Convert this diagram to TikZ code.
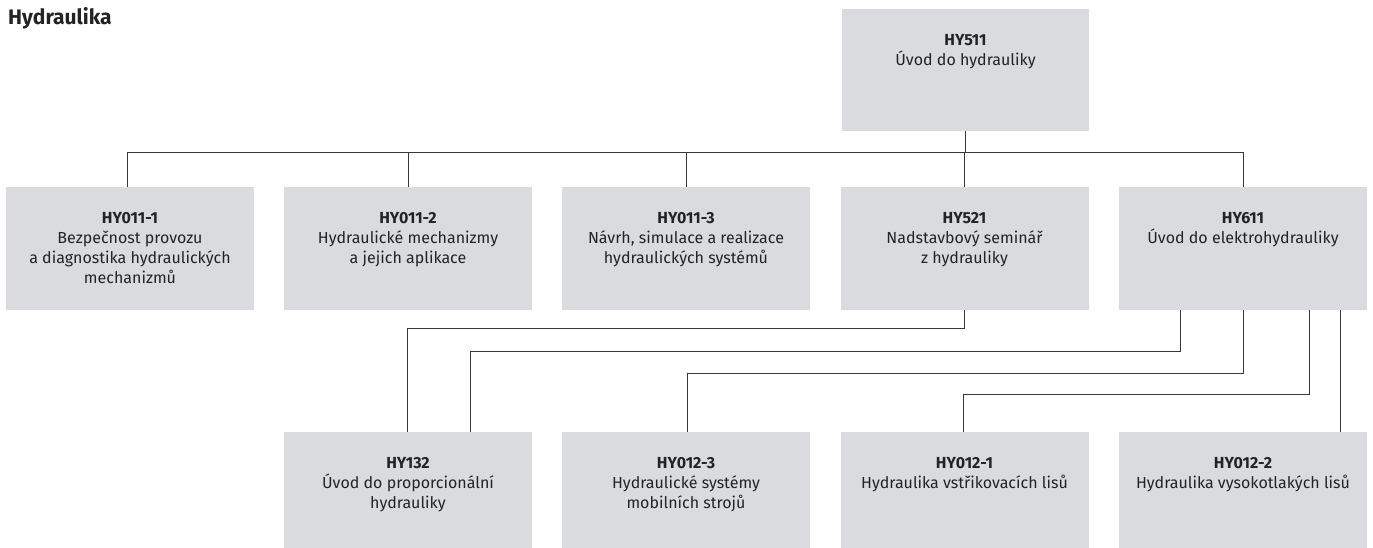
\documentclass[tikz,border=0pt]{standalone}
\usepackage{fontspec}
\setmainfont{Fira Sans}
\usetikzlibrary{positioning,calc}
\definecolor{boxgray}{RGB}{217,219,223}
\definecolor{linegray}{RGB}{55,55,55}
\definecolor{txt}{RGB}{35,35,35}
\tikzset{
  course/.style={draw=none,fill=boxgray,minimum width=#1,inner sep=0pt,outer sep=0pt},
  rowone/.style={course=248pt,minimum height=123pt},
  rowtwo/.style={course=248pt,minimum height=116pt},
  cap/.style={label={[anchor=north,yshift=-25pt,inner sep=0pt,align=center,text=txt,font=\fontsize{16}{20}\selectfont]north:#1}},
  conn/.style={draw=linegray,line width=0.9pt},
}
\newcommand{\code}[1]{\textbf{#1}}
\begin{document}
\begin{tikzpicture}[x=1pt,y=-1pt]
\useasboundingbox (0,0) rectangle (1373,548);
\node[anchor=base west,text=txt,font=\fontsize{21}{24}\selectfont\bfseries,inner sep=0pt] (title) at (8,25) {Hydraulika};
% top
\node[course=247pt,minimum height=122pt,cap={\code{HY511}\\Úvod do hydrauliky}] (b511) at (965.5,70) {};
% row one
\node[rowone,cap={\code{HY011-1}\\Bezpečnost provozu\\a diagnostika hydraulických\\mechanizmů}] (b0111) at (130,248.5) {};
\node[rowone,cap={\code{HY011-2}\\Hydraulické mechanizmy\\a jejich aplikace}] (b0112) at (408,248.5) {};
\node[rowone,cap={\code{HY011-3}\\Návrh, simulace a realizace\\hydraulických systémů}] (b0113) at (686,248.5) {};
\node[rowone,cap={\code{HY521}\\Nadstavbový seminář\\z hydrauliky}] (b521) at (964.5,248.5) {};
\node[rowone,cap={\code{HY611}\\Úvod do elektrohydrauliky}] (b611) at (1243,248.5) {};
% row two
\node[rowtwo,cap={\code{HY132}\\Úvod do proporcionální\\hydrauliky}] (b132) at (408,490) {};
\node[rowtwo,cap={\code{HY012-3}\\Hydraulické systémy\\mobilních strojů}] (b0123) at (686,490) {};
\node[rowtwo,cap={\code{HY012-1}\\Hydraulika vstřikovacích lisů}] (b0121) at (964.5,490) {};
\node[rowtwo,cap={\code{HY012-2}\\Hydraulika vysokotlakých lisů}] (b0122) at (1243,490) {};
% bus
\coordinate (bus) at (0,152);
\draw[conn] (b511.south) -- (b511.south |- bus);
\draw[conn] ([xshift=-3pt]b0111.north) -- ([xshift=-3pt]b0111.north |- bus) -- (b611.north |- bus) -- (b611.north);
\draw[conn] (b0112.north) -- (b0112.north |- bus);
\draw[conn] (b0113.north) -- (b0113.north |- bus);
\draw[conn] (b521.north) -- (b521.north |- bus);
% second level
\coordinate (l1) at (0,328);
\coordinate (l2) at (0,351);
\coordinate (l3) at (0,373);
\coordinate (l4) at (0,394);
\draw[conn] (b521.south) -- (b521.south |- l1) -- ([xshift=-1pt]b132.north |- l1) -- ([xshift=-1pt]b132.north);
\draw[conn] ([xshift=-63pt]b611.south) -- ([xshift=-63pt]b611.south |- l2) -- ([xshift=62pt]b132.north |- l2) -- ([xshift=62pt]b132.north);
\draw[conn] (b611.south) -- (b611.south |- l3) -- ([xshift=1pt]b0123.north |- l3) -- ([xshift=1pt]b0123.north);
\draw[conn] ([xshift=66pt]b611.south) -- ([xshift=66pt]b611.south |- l4) -- ([xshift=-1pt]b0121.north |- l4) -- ([xshift=-1pt]b0121.north);
\draw[conn] ([xshift=97pt]b611.south) -- ([xshift=97pt]b0122.north);
\end{tikzpicture}
\end{document}
